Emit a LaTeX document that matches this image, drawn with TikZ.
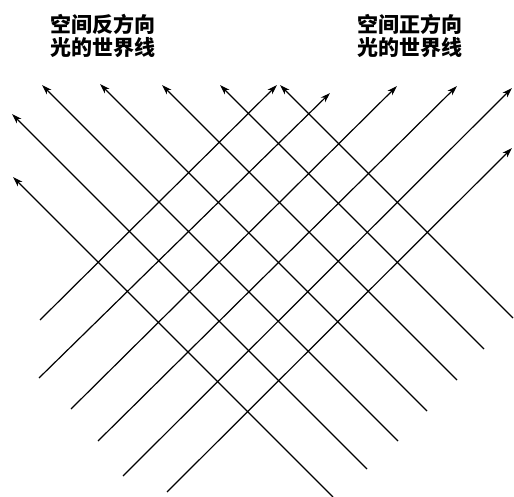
\documentclass[tikz,border=0pt]{standalone}
\usepackage{fontspec}
\newfontfamily\cjk{Noto Sans CJK SC}
\usetikzlibrary{arrows.meta}

\begin{document}
\begin{tikzpicture}[
        x=0.5pt, y=-0.5pt,
        ray/.style={-{Stealth[length=5pt, width=3.2pt]}, line width=0.6pt},
        label_cjk/.style={align=center, font=\cjk\bfseries\fontsize{10.5}{11.5}\selectfont, inner sep=0pt}
    ]
    \useasboundingbox (0,0) rectangle (514,497);

    % labels
    \node[label_cjk] (neg) at (103,36) {空间反方向\\光的世界线};
    \node[label_cjk] (pos) at (410,36) {空间正方向\\光的世界线};

    % light moving in the negative direction
    \foreach \xa/\ya/\xb/\yb [count=\i] in {513/318/280/85, 484/349/220/85, 457/380/162/85,
            427/411/100/84, 398/441/42/85, 367/469/12/114, 333/497/13/177} {
        \coordinate (nstart\i) at (\xa,\ya);
        \coordinate (nend\i) at (\xb,\yb);
        \draw[ray] (nstart\i) -- (nend\i);
    }

    % light moving in the positive direction
    \foreach \xa/\ya/\xb/\yb [count=\i] in {40/320/277/85, 39/378/330/93, 71/409/397/86,
            98/441/457/86, 123/476/512/88, 167/492/512/148} {
        \coordinate (pstart\i) at (\xa,\ya);
        \coordinate (pend\i) at (\xb,\yb);
        \draw[ray] (pstart\i) -- (pend\i);
    }
\end{tikzpicture}
\end{document}
